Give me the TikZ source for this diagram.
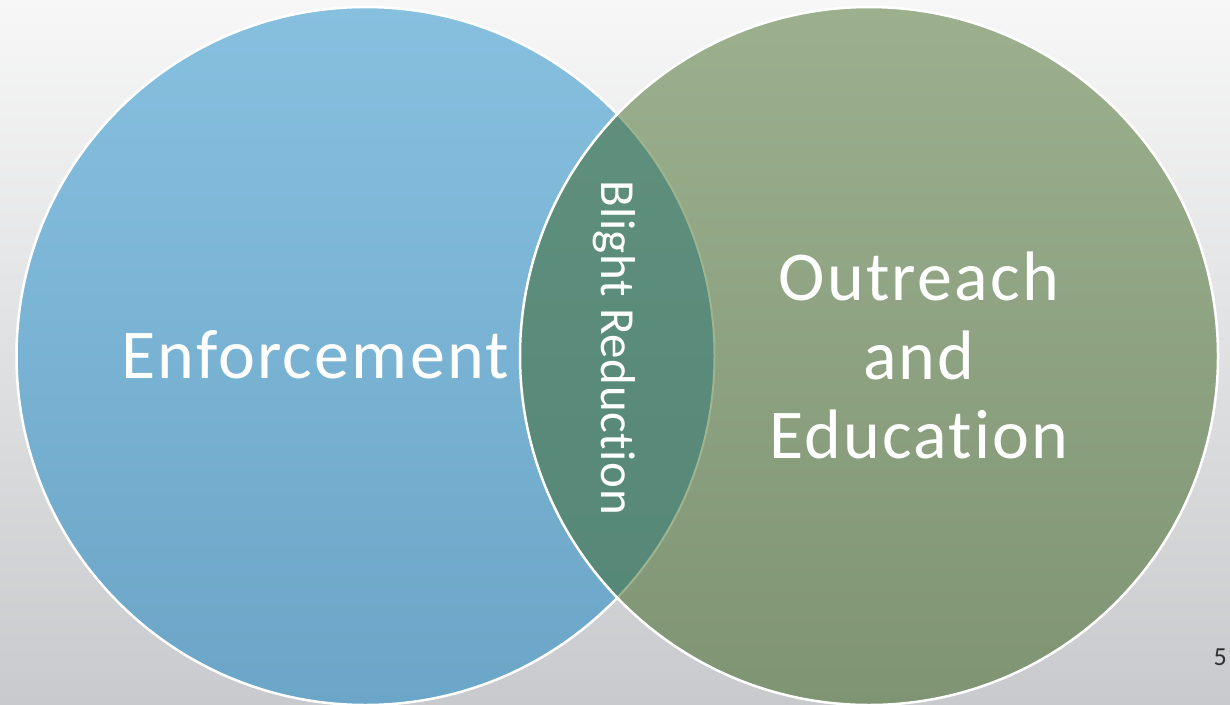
\documentclass[tikz,border=0pt]{standalone}
\usepackage{fontspec}
\setmainfont{Carlito}
\newfontfamily\bigfont[LetterSpace=3.2,Ligatures=NoCommon]{Carlito}
\newfontfamily\midfont[LetterSpace=1.2,Ligatures=NoCommon]{Carlito}
\definecolor{bgtop}{HTML}{F7F7F7}
\definecolor{bgbot}{HTML}{C8CACD}
\definecolor{bluetop}{HTML}{87C0DF}
\definecolor{bluebot}{HTML}{6BA5C7}
\definecolor{greentop}{HTML}{9CB08E}
\definecolor{greenbot}{HTML}{7F9473}
\definecolor{lenstop}{HTML}{61907D}
\definecolor{lensbot}{HTML}{548677}
\definecolor{lensedge}{HTML}{9DB48F}
\definecolor{pagenum}{HTML}{303030}
\tikzset{
  bigtext/.style={text=white, font=\bigfont\fontsize{70}{79}\selectfont, inner sep=0pt},
  midtext/.style={text=white, font=\midfont\fontsize{49}{55}\selectfont, inner sep=0pt},
  ring/.style={draw=white, line width=2.5pt}
}
\begin{document}
\begin{tikzpicture}[x=1pt,y=-1pt]
\useasboundingbox (0,0) rectangle (1230,704);
\shade[top color=bgtop, bottom color=bgbot] (0,0) rectangle (1230,704);
% left circle
\shade[top color=bluetop, bottom color=bluebot] (365.5,356) circle[radius=349pt];
\draw[ring] (365.5,356) circle[radius=349pt];
% right circle
\shade[top color=greentop, bottom color=greenbot] (869,356) circle[radius=349pt];
% lens
\begin{scope}
  \clip (365.5,356) circle[radius=349pt];
  \shade[top color=lenstop, bottom color=lensbot] (869,356) circle[radius=349pt];
\end{scope}
\begin{scope}
  \clip (869,356) circle[radius=349pt];
  \draw[draw=lensedge, line width=2pt] (365.5,356) circle[radius=349pt];
\end{scope}
\draw[ring] (869,356) circle[radius=349pt];
% texts
\node[bigtext, anchor=base] (enf) at (315,378) {Enforcement};
\node[bigtext, anchor=base] (out1) at (919,300) {Outreach};
\node[bigtext, anchor=base] (out2) at (919,379) {and};
\node[bigtext, anchor=base] (out3) at (919,458) {Education};
\node[midtext, anchor=base, rotate=-90] (blight) at (601,347.5) {Blight Reduction};
\node[text=pagenum, font=\fontsize{26}{30}\selectfont, anchor=base east, inner sep=0pt] (pg) at (1227,665) {5};
\end{tikzpicture}
\end{document}
